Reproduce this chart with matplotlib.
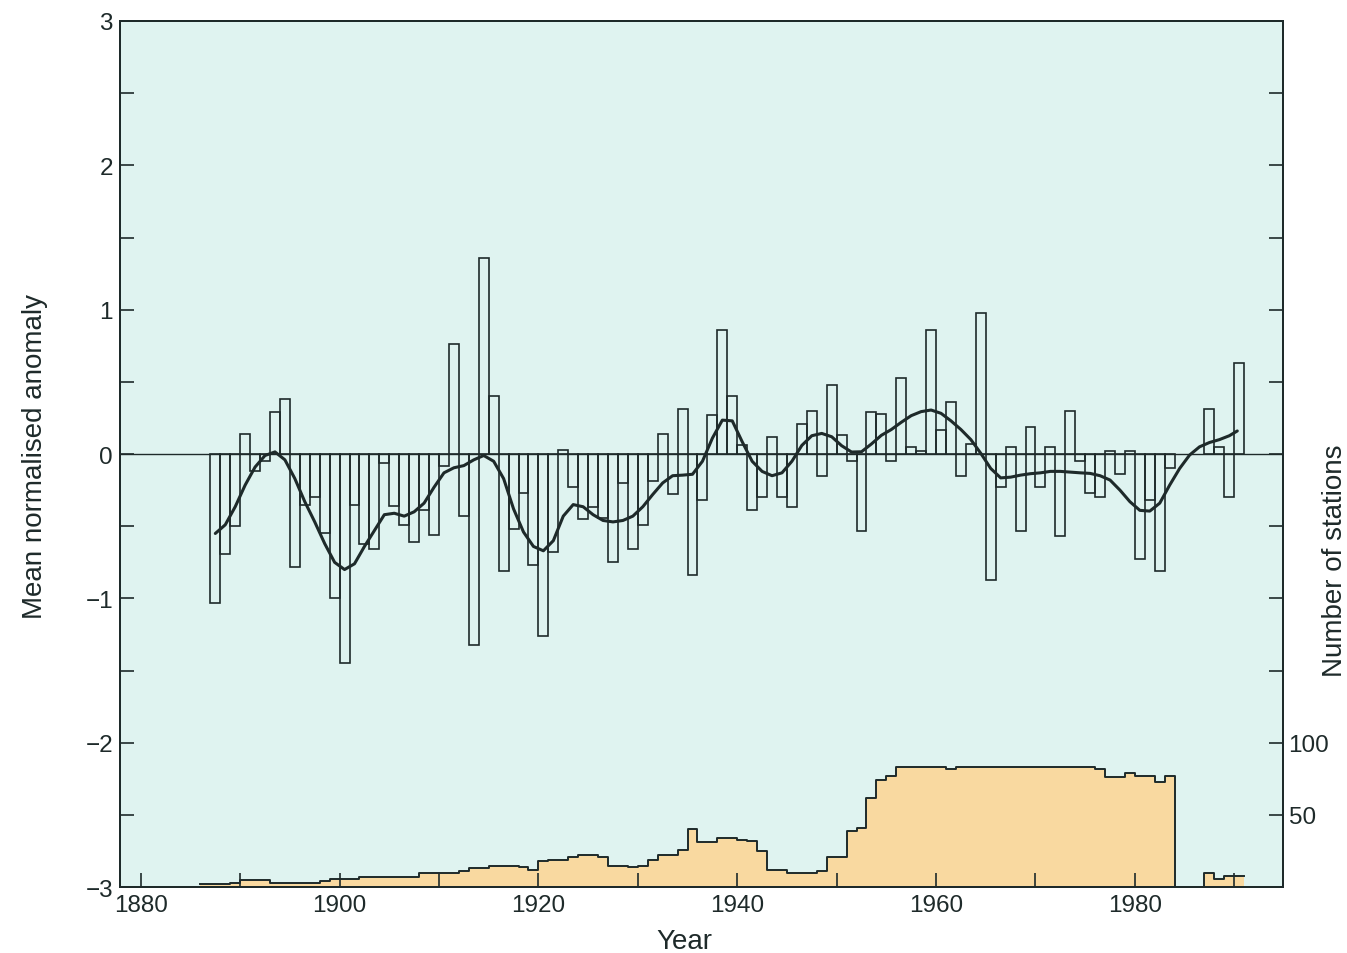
import numpy as np
import matplotlib
matplotlib.use("Agg")
import matplotlib.pyplot as plt

plt.rcParams['font.family'] = ['Liberation Sans', 'DejaVu Sans']

# annual mean normalised anomaly (bars)
bar_years = list(range(1887, 1984)) + [1987, 1988, 1989, 1990]
anomaly = [
    -1.03, -0.69, -0.50, 0.14, -0.12, -0.05, 0.29, 0.38, -0.78, -0.35,   # 1887-1896
    -0.30, -0.55, -1.00, -1.45, -0.35, -0.62, -0.66, -0.06, -0.36, -0.49,  # 1897-1906
    -0.61, -0.39, -0.56, -0.08, 0.76, -0.43, -1.32, 1.36, 0.40, -0.81,    # 1907-1916
    -0.52, -0.27, -0.77, -1.26, -0.68, 0.03, -0.23, -0.45, -0.37, -0.44,  # 1917-1926
    -0.75, -0.20, -0.66, -0.49, -0.19, 0.14, -0.28, 0.31, -0.84, -0.32,   # 1927-1936
    0.27, 0.86, 0.40, 0.06, -0.39, -0.30, 0.12, -0.30, -0.37, 0.21,       # 1937-1946
    0.30, -0.15, 0.48, 0.13, -0.05, -0.53, 0.29, 0.28, -0.05, 0.53,       # 1947-1956
    0.05, 0.02, 0.86, 0.17, 0.36, -0.15, 0.07, 0.98, -0.87, -0.23,        # 1957-1966
    0.05, -0.53, 0.19, -0.23, 0.05, -0.57, 0.30, -0.05, -0.27, -0.30,     # 1967-1976
    0.02, -0.14, 0.02, -0.73, -0.32, -0.81, -0.10,                        # 1977-1983
    0.31, 0.05, -0.30, 0.63,                                              # 1987-1990
]

# smoothed curve, read at mid-year
curve_years = [y + 0.5 for y in range(1887, 1990)] + [1990.3]
curve = [
    -0.55, -0.49, -0.365, -0.215, -0.09, -0.01, 0.015, -0.04, -0.17, -0.33,
    -0.47, -0.62, -0.75, -0.80, -0.76, -0.64, -0.53, -0.42, -0.41, -0.43,
    -0.40, -0.34, -0.23, -0.13, -0.095, -0.08, -0.04, -0.01, -0.05, -0.17,
    -0.38, -0.54, -0.64, -0.67, -0.60, -0.43, -0.35, -0.365, -0.42, -0.46,
    -0.47, -0.46, -0.43, -0.365, -0.28, -0.20, -0.15, -0.146, -0.14, -0.05,
    0.11, 0.235, 0.23, 0.085, -0.05, -0.12, -0.15, -0.13, -0.05, 0.06,
    0.127, 0.143, 0.12, 0.058, 0.014, 0.016, 0.07, 0.13, 0.17, 0.22,
    0.266, 0.294, 0.305, 0.282, 0.23, 0.17, 0.10, 0.005, -0.10, -0.165,
    -0.16, -0.146, -0.136, -0.13, -0.12, -0.12, -0.125, -0.13, -0.134, -0.15,
    -0.18, -0.25, -0.33, -0.39, -0.395, -0.34, -0.215, -0.10, -0.007, 0.05,
    0.08, 0.10, 0.127, 0.16,
]

# number of stations per year
station_years = list(range(1886, 1991))
stations = [
    2, 2, 2, 3, 5, 5, 5, 3, 3, 3,            # 1886-1895
    3, 3, 4, 6, 6, 6, 7, 7, 7, 7,            # 1896-1905
    7, 7, 10, 10, 10, 10, 11, 13, 13, 15,    # 1906-1915
    15, 15, 14, 12, 18, 19, 19, 21, 22, 22,  # 1916-1925
    21, 15, 15, 14, 15, 19, 22, 22, 26, 40,  # 1926-1935
    31, 31, 34, 34, 33, 32, 25, 12, 12, 10,  # 1936-1945
    10, 10, 11, 21, 21, 39, 41, 62, 74, 77,  # 1946-1955
    83, 83, 83, 83, 83, 82, 83, 83, 83, 83,  # 1956-1965
    83, 83, 83, 83, 83, 83, 83, 83, 83, 83,  # 1966-1975
    82, 76, 76, 79, 77, 77, 73, 77, 0, 0,    # 1976-1985
    0, 10, 6, 8, 8,                          # 1986-1990
]

ink = '#1e2a2a'
bg = '#dff3f0'
sand = '#f9d9a0'
tick_fs = 17.5
label_fs = 20

fig = plt.figure(figsize=(13.47, 9.54), dpi=100)
ax = fig.add_axes([0.089, 0.069, 0.8635, 0.908])
ax2 = ax.twinx()

# stations drawn underneath the anomaly axes
ax2.set_zorder(1)
ax.set_zorder(2)
ax.patch.set_visible(False)
ax2.patch.set_visible(True)
ax2.set_facecolor(bg)

ax2.set_ylim(0, 600)
edges = station_years + [station_years[-1] + 1]
vals = stations + [stations[-1]]
ax2.fill_between(edges, vals, 0, step='post', color=sand, linewidth=0, zorder=1)
ax2.step(edges, vals, where='post', color=ink, linewidth=1.4, zorder=2)
ax2.set_yticks(np.arange(0, 601, 50))
ax2.set_yticklabels(['' if v not in (50, 100) else str(v) for v in range(0, 601, 50)])
ax2.tick_params(direction='in', length=10, width=1.2, labelsize=tick_fs,
                color=ink, labelcolor=ink, pad=4)

ax.bar(bar_years, anomaly, width=1.0, align='edge', fill=False,
       edgecolor=ink, linewidth=1.2, zorder=3)
ax.axhline(0, color=ink, linewidth=1.0, zorder=2)
ax.plot(curve_years, curve, color=ink, linewidth=2.2, zorder=4,
        solid_joinstyle='round', solid_capstyle='round')

ax.set_xlim(1877.9, 1994.9)
ax2.set_xlim(1877.9, 1994.9)
ax.set_ylim(-3, 3)
ax.set_xticks(np.arange(1880, 1995, 10))
ax.set_xticklabels([str(y) if y % 20 == 0 else '' for y in range(1880, 1995, 10)])
ax.set_yticks(np.arange(-3, 3.01, 0.5))
ax.set_yticklabels(['\u22123', '', '\u22122', '', '\u22121', '', '0', '', '1', '', '2', '', '3'])
ax.tick_params(direction='in', length=10, width=1.2, labelsize=tick_fs,
               color=ink, labelcolor=ink)
ax.tick_params(axis='x', pad=5)
ax.tick_params(axis='y', pad=5)
for a in (ax, ax2):
    for s in a.spines.values():
        s.set_linewidth(1.4)
        s.set_color(ink)

fig.text(0.026, 0.521, 'Mean normalised anomaly', rotation=90, ha='center', va='center',
         fontsize=label_fs, color=ink)
fig.text(0.991, 0.412, 'Number of stations', rotation=90, ha='center', va='center',
         fontsize=label_fs, color=ink)
fig.text(0.508, 0.0126, 'Year', ha='center', va='center', fontsize=label_fs, color=ink)

fig.savefig('out.png', dpi=100, facecolor='white')
